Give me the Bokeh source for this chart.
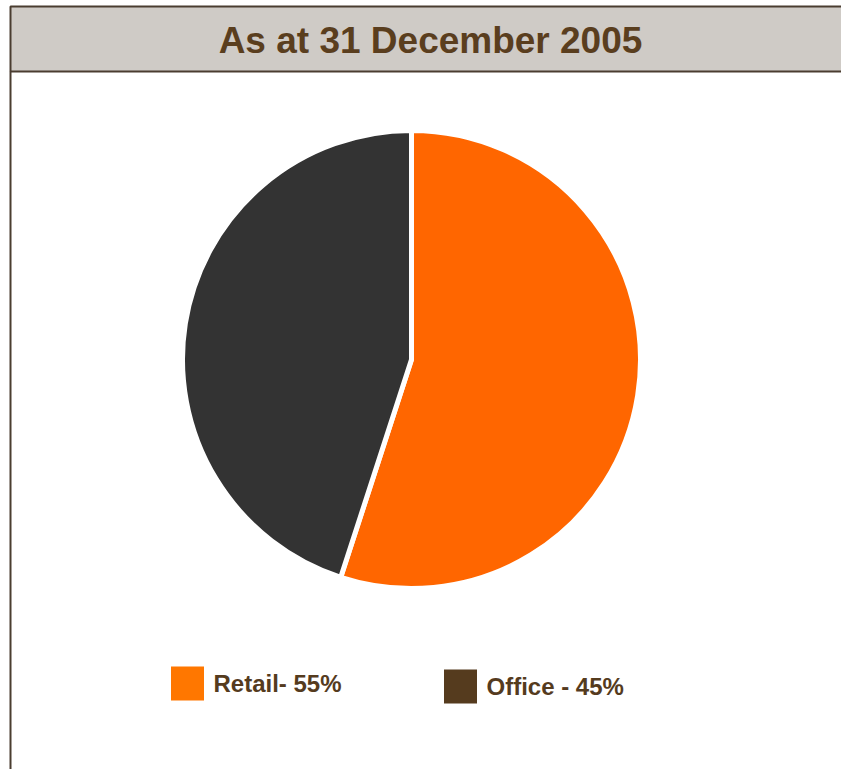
from bokeh.plotting import figure
from bokeh.models import Range1d, ColumnDataSource
from bokeh.core.properties import value
from bokeh.embed import file_html
from bokeh.resources import INLINE
import math

title_text = "As at 31 December 2005"
categories = ["Retail", "Office"]
shares = [55, 45]
legend_labels = ["Retail- 55%", "Office - 45%"]
pie_colors = ["#FF6600", "#333333"]
legend_colors = ["#FF7700", "#553B1E"]

W, H = 841, 769
p = figure(width=W, height=H, output_backend="svg", toolbar_location=None,
           x_range=Range1d(0, W), y_range=Range1d(0, H), min_border=0)
p.axis.visible = False
p.grid.visible = False
p.outline_line_color = None
p.background_fill_color = "white"
p.border_fill_color = "white"

def Y(y):
    return H - y

# title bar
p.quad(left=[10], right=[845], top=[Y(6)], bottom=[Y(71)], fill_color="#CFCBC6",
       line_color="#4A3D30", line_width=2)
p.segment(x0=[10], y0=[Y(71)], x1=[10], y1=[Y(775)], line_color="#4A3D30", line_width=2)
p.text(x=[430], y=[Y(40)], text=[title_text], text_font=value("Liberation Sans"),
       text_font_style="bold", text_font_size="37px", text_color="#5A3E1E",
       text_align="center", text_baseline="middle")

# pie
total = sum(shares)
starts, ends = [], []
cum = 0
for s in shares:
    a0 = math.pi / 2 - 2 * math.pi * cum / total
    cum += s
    a1 = math.pi / 2 - 2 * math.pi * cum / total
    starts.append(a1)
    ends.append(a0)
src = ColumnDataSource(dict(cat=categories, start=starts, end=ends, color=pie_colors))
p.wedge(x=411, y=Y(359), radius=229, start_angle="start", end_angle="end",
        fill_color="color", line_color="white", line_width=5, source=src)

# legend
leg_x = [187, 460]
leg_y = [683, 686]
p.rect(x=leg_x, y=[Y(v) for v in leg_y], width=33, height=34, fill_color=legend_colors,
       line_color=None)
p.text(x=[x + 26 for x in leg_x], y=[Y(v) for v in leg_y], text=legend_labels,
       text_font=value("Liberation Sans"), text_font_style="bold", text_font_size="24px",
       text_color="#553B1E", text_align="left", text_baseline="middle")

open("out.html", "w").write(file_html(p, INLINE))
